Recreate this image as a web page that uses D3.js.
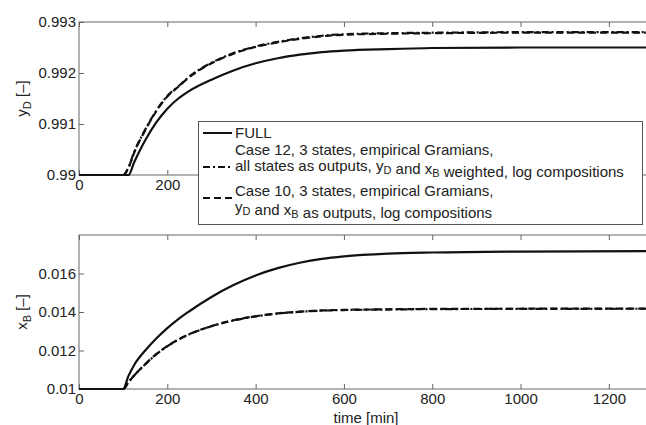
<!DOCTYPE html>
<html>
<head>
<meta charset="utf-8">
<script src="https://cdn.jsdelivr.net/npm/d3@7"></script>
<style>
  body { margin: 0; background: #fff; }
  svg { display: block; font-family: "Liberation Sans", Arial, sans-serif; }
</style>
</head>
<body>
<div class="main"></div>
<script>
// time grid [min]
const time = [0, 100, 112, 125, 150, 175, 200, 225, 250, 300, 350, 400, 450, 500, 550, 600, 700, 800, 1000, 1300];

// top panel, y_D
const yD_full   = [0.99, 0.99, 0.99, 0.99025, 0.99068, 0.99103, 0.9913, 0.9915, 0.99165, 0.99187, 0.99205, 0.99219, 0.99229, 0.99236, 0.99241, 0.99244, 0.99247, 0.99249, 0.9925, 0.9925];
const yD_case12 = [0.99, 0.99, 0.99015, 0.99045, 0.99089, 0.99126, 0.99155, 0.99174, 0.99193, 0.9922, 0.99239, 0.99252, 0.99261, 0.99268, 0.99273, 0.99276, 0.99278, 0.99279, 0.9928, 0.9928];
const yD_case10 = [0.99, 0.99, 0.99014, 0.99044, 0.99088, 0.99125, 0.99154, 0.99173, 0.99192, 0.99219, 0.99238, 0.99251, 0.9926, 0.99267, 0.99272, 0.99275, 0.99277, 0.99278, 0.99279, 0.99279];

// bottom panel, x_B
const xB_full   = [0.01, 0.01, 0.01068, 0.01125, 0.012, 0.01262, 0.01316, 0.01363, 0.01404, 0.01478, 0.0154, 0.0159, 0.01628, 0.01656, 0.01676, 0.01689, 0.01703, 0.01709, 0.01714, 0.01716];
const xB_case12 = [0.01, 0.01, 0.01035, 0.0107, 0.01128, 0.0118, 0.01222, 0.01256, 0.01284, 0.01326, 0.01356, 0.01377, 0.01392, 0.01401, 0.01407, 0.0141, 0.01413, 0.01415, 0.01416, 0.01417];
const xB_case10 = [0.01, 0.01, 0.01035, 0.0107, 0.01129, 0.01181, 0.01223, 0.01257, 0.01285, 0.01327, 0.01357, 0.01378, 0.01393, 0.01402, 0.01408, 0.01411, 0.01414, 0.01416, 0.01417, 0.01418];

const xTicks = [0, 200, 400, 600, 800, 1000, 1200];
const yDTicks = [0.99, 0.991, 0.992, 0.993];
const xBTicks = [0.01, 0.012, 0.014, 0.016];

const legendItems = [
    { lines: ["FULL"], dash: null },
    { lines: ["Case 12, 3 states, empirical Gramians,", "all states as outputs, y_D and x_B weighted, log compositions"], dash: "7,3,2,3" },
    { lines: ["Case 10, 3 states, empirical Gramians,", "y_D and x_B as outputs, log compositions"], dash: "7,4" }
];

const width = 646, height = 425;
const fontSize = 15;
const svg = d3.select(".main").append("svg")
    .attr("width", width)
    .attr("height", height);

const x = d3.scaleLinear().domain([0, 1300]).range([79, 653]);

function panel(top, bottom, domain, ticks, fmt, series, label, xLabels) {
    const y = d3.scaleLinear().domain(domain).range([bottom, top]);
    const g = svg.append("g");

    // frame
    g.append("rect")
        .attr("x", x.range()[0]).attr("y", top)
        .attr("width", x.range()[1] - x.range()[0]).attr("height", bottom - top)
        .attr("fill", "none").attr("stroke", "#666").attr("stroke-width", 1);

    // inner ticks
    g.append("g").attr("transform", `translate(0,${bottom})`)
        .call(d3.axisTop(x).tickValues(xTicks).tickSize(5).tickFormat(""))
        .call(a => a.select(".domain").remove())
        .call(a => a.selectAll("line").attr("stroke", "#666"));
    g.append("g").attr("transform", `translate(0,${top})`)
        .call(d3.axisBottom(x).tickValues(xTicks).tickSize(5).tickFormat(""))
        .call(a => a.select(".domain").remove())
        .call(a => a.selectAll("line").attr("stroke", "#666"));
    g.append("g").attr("transform", `translate(${x.range()[0]},0)`)
        .call(d3.axisRight(y).tickValues(ticks).tickSize(5).tickFormat(""))
        .call(a => a.select(".domain").remove())
        .call(a => a.selectAll("line").attr("stroke", "#666"));

    // tick labels
    g.append("g").attr("transform", `translate(${x.range()[0]},0)`)
        .call(d3.axisLeft(y).tickValues(ticks).tickSize(0).tickPadding(3).tickFormat(fmt))
        .call(a => a.select(".domain").remove())
        .call(a => a.selectAll("text").attr("font-size", fontSize).attr("fill", "#222")
            .attr("font-family", "Liberation Sans, Arial, sans-serif"));
    g.append("g").attr("transform", `translate(0,${bottom})`)
        .call(d3.axisBottom(x).tickValues(xLabels).tickSize(0).tickPadding(4).tickFormat(d3.format("d")))
        .call(a => a.select(".domain").remove())
        .call(a => a.selectAll("text").attr("font-size", fontSize).attr("fill", "#222")
            .attr("font-family", "Liberation Sans, Arial, sans-serif"));

    // curves
    const line = d3.line()
        .x((d, i) => x(time[i]))
        .y(d => y(d))
        .curve(d3.curveMonotoneX);
    const clip = "clip" + top;
    g.append("clipPath").attr("id", clip).append("rect")
        .attr("x", x.range()[0]).attr("y", top - 2)
        .attr("width", x.range()[1] - x.range()[0]).attr("height", bottom - top + 4);
    series.forEach(s => {
        g.append("path")
            .attr("clip-path", `url(#${clip})`)
            .attr("d", line(s.values))
            .attr("fill", "none")
            .attr("stroke", "#111")
            .attr("stroke-width", 2.2)
            .attr("stroke-dasharray", s.dash);
    });

    // y label with subscript
    const lab = g.append("text")
        .attr("transform", `translate(27,${(top + bottom) / 2}) rotate(-90)`)
        .attr("text-anchor", "middle")
        .attr("font-size", fontSize)
        .attr("fill", "#222");
    lab.append("tspan").text(label[0]);
    lab.append("tspan").attr("font-size", 11).attr("dy", 4).text(label[1]);
    lab.append("tspan").attr("dy", -4).text(" [–]");
    return y;
}

// top x labels past 200 sit under the legend, so only 0 and 200 are shown
panel(22, 175, [0.99, 0.993], yDTicks, d => d === 0.99 ? "0.99" : d3.format(".3f")(d),
    [{ values: yD_full, dash: null }, { values: yD_case10, dash: "7,4" }, { values: yD_case12, dash: "7,3,2,3" }],
    ["y", "D"], [0, 200]);

panel(235, 389, [0.01, 0.018], xBTicks, d => d === 0.01 ? "0.01" : d3.format(".3f")(d),
    [{ values: xB_full, dash: null }, { values: xB_case10, dash: "7,4" }, { values: xB_case12, dash: "7,3,2,3" }],
    ["x", "B"], xTicks);

svg.append("text")
    .attr("x", 366).attr("y", 423)
    .attr("text-anchor", "middle")
    .attr("font-size", fontSize)
    .attr("fill", "#222")
    .text("time [min]");

// legend
const lg = svg.append("g");
lg.append("rect")
    .attr("x", 198.5).attr("y", 121.5)
    .attr("width", 444).attr("height", 103)
    .attr("fill", "#fff").attr("stroke", "#555").attr("stroke-width", 1);

const rowY = [[133], [150, 166], [191, 207]];
const sampleY = [133, 167, 198];
legendItems.forEach((item, i) => {
    lg.append("line")
        .attr("x1", 203).attr("x2", 232)
        .attr("y1", sampleY[i]).attr("y2", sampleY[i])
        .attr("stroke", "#111").attr("stroke-width", 2)
        .attr("stroke-dasharray", item.dash);
    item.lines.forEach((ln, j) => {
        const t = lg.append("text")
            .attr("x", 235).attr("y", rowY[i][j] + 5)
            .attr("font-size", fontSize)
            .attr("fill", "#222");
        // y_D and x_B get a subscript
        ln.split(/(y_D|x_B)/).forEach(part => {
            if (part === "y_D" || part === "x_B") {
                t.append("tspan").text(part[0]);
                t.append("tspan").attr("font-size", 11).attr("dy", 3).text(part[2]);
                t.append("tspan").attr("dy", -3).text("");
            } else if (part.length) {
                t.append("tspan").text(part);
            }
        });
    });
});
</script>
</body>
</html>
